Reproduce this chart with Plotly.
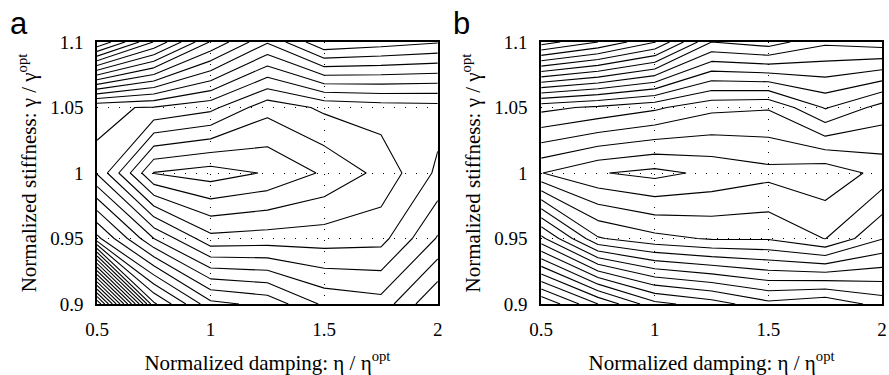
import plotly.graph_objects as go
from plotly.subplots import make_subplots

# Grid of normalized parameters
damping = [0.5, 0.75, 1.0, 1.25, 1.5, 1.75, 2.0]
stiffness = [0.9, 0.95, 1.0, 1.05, 1.1]

# Cost surface, panel a (rows follow stiffness, columns follow damping)
cost_a = [
    [29.0, 14.2, 10.3, 9.7, 7.8, 7.4, 10.0],
    [11.3, 7.0, 4.3, 4.45, 4.5, 4.65, 7.1],
    [5.9, 0.95, 0.5, 1.1, 2.15, 3.3, 5.2],
    [6.1, 5.95, 5.3, 3.35, 4.2, 4.5, 4.6],
    [20.0, 15.95, 11.9, 9.1, 11.9, 11.5, 11.1],
]

# Cost surface, panel b
cost_b = [
    [18.0, 15.0, 12.3, 11.5, 10.3, 10.8, 9.6],
    [9.3, 5.1, 4.3, 3.9, 3.9, 2.97, 4.95],
    [2.03, 1.075, 0.7, 1.245, 1.69, 1.3, 2.35],
    [6.3, 5.8, 5.2, 4.25, 4.09, 6.1, 4.6],
    [18.5, 17.0, 15.05, 11.0, 11.5, 10.2, 10.5],
]

x_ticks = [0.5, 1, 1.5, 2]
x_tick_text = ["0.5", "1", "1.5", "2"]
y_ticks = [0.9, 0.95, 1.0, 1.05, 1.1]
y_tick_text = ["0.9", "0.95", "1", "1.05", "1.1"]

panel_labels = ["a", "b"]

SERIF = "Liberation Serif, Times New Roman, serif"
SANS = "Liberation Sans, Arial, sans-serif"

fig = make_subplots(rows=1, cols=2, horizontal_spacing=0.1317)

for col, z in enumerate([cost_a, cost_b], start=1):
    fig.add_trace(
        go.Contour(
            x=damping,
            y=stiffness,
            z=z,
            contours=dict(coloring="none", start=1, end=40, size=1),
            line=dict(color="black", width=1.1, smoothing=0),
            showscale=False,
            hoverinfo="skip",
        ),
        row=1,
        col=col,
    )

axis_common = dict(
    showline=True,
    linecolor="black",
    linewidth=1.6,
    mirror=True,
    ticks="",
    showgrid=True,
    gridcolor="black",
    gridwidth=1,
    griddash="1px,10px",
    zeroline=False,
    tickfont=dict(family=SERIF, size=19, color="black"),
)

for col in (1, 2):
    fig.update_xaxes(
        range=[0.5, 2],
        tickvals=x_ticks,
        ticktext=x_tick_text,
        ticklabelstandoff=7,
        title=dict(
            text="Normalized damping: η / η<sup>opt</sup>",
            font=dict(family=SERIF, size=21, color="black"),
            standoff=17,
        ),
        row=1,
        col=col,
        **axis_common,
    )
    fig.update_yaxes(
        range=[0.9, 1.1],
        tickvals=y_ticks,
        ticktext=y_tick_text,
        ticklabelstandoff=8,
        title=dict(
            text="Normalized stiffness: γ / γ<sup>opt</sup>",
            font=dict(family=SERIF, size=21, color="black"),
            standoff=8,
        ),
        row=1,
        col=col,
        **axis_common,
    )

fig.update_layout(
    width=889,
    height=375,
    margin=dict(l=97, r=2, t=42, b=71),
    paper_bgcolor="white",
    plot_bgcolor="white",
    showlegend=False,
)

for label, xpos in zip(panel_labels, [18, 464]):
    fig.add_annotation(
        text=label,
        xref="paper",
        yref="paper",
        x=(xpos - 97) / 790,
        y=1 + (42 - 23) / 262,
        xanchor="center",
        yanchor="middle",
        showarrow=False,
        font=dict(family=SANS, size=31, color="black"),
    )

fig.write_html("out.html")
